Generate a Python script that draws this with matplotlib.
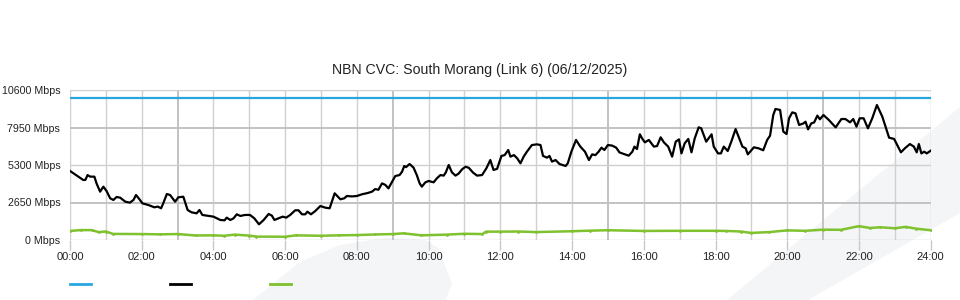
import matplotlib
matplotlib.use("Agg")
import matplotlib.pyplot as plt
from matplotlib.lines import Line2D
from matplotlib.patches import Polygon

plt.rcParams['font.family'] = ['Liberation Sans', 'DejaVu Sans']

title = "NBN CVC: South Morang (Link 6) (06/12/2025)"

# hours of day and Mbps
cap_hours = [0, 24]
cap_mbps = [10000, 10000]

down_hours = [
    0.00, 0.19, 0.37, 0.43, 0.49, 0.56, 0.68, 0.74, 0.84, 0.93, 1.02, 1.12, 1.21, 1.30,
    1.40, 1.54, 1.67, 1.77, 1.84, 1.93, 2.02, 2.19, 2.35, 2.45, 2.54, 2.60, 2.70, 2.79,
    2.93, 3.02, 3.16, 3.28, 3.39, 3.53, 3.61, 3.69, 3.86, 4.00, 4.19, 4.31, 4.37, 4.47,
    4.56, 4.65, 4.75, 4.88, 5.02, 5.14, 5.27, 5.40, 5.54, 5.63, 5.70, 5.81, 5.93, 6.03,
    6.14, 6.28, 6.37, 6.47, 6.56, 6.62, 6.72, 6.84, 6.98, 7.12, 7.24, 7.38, 7.54, 7.65,
    7.72, 7.86, 8.00, 8.14, 8.30, 8.42, 8.51, 8.60, 8.70, 8.79, 8.88, 9.07, 9.19, 9.26,
    9.32, 9.37, 9.47, 9.58, 9.67, 9.75, 9.81, 9.91, 10.00, 10.14, 10.23, 10.33, 10.42,
    10.48, 10.56, 10.65, 10.75, 10.84, 10.93, 11.03, 11.12, 11.24, 11.35, 11.49, 11.61,
    11.72, 11.81, 11.91, 12.03, 12.12, 12.22, 12.28, 12.38, 12.47, 12.56, 12.65, 12.74,
    12.88, 13.02, 13.12, 13.19, 13.30, 13.37, 13.44, 13.54, 13.65, 13.82, 13.88, 13.98,
    14.11, 14.23, 14.36, 14.47, 14.56, 14.65, 14.74, 14.82, 14.90, 15.00, 15.12, 15.23,
    15.32, 15.44, 15.58, 15.68, 15.74, 15.81, 15.89, 15.96, 16.03, 16.14, 16.28, 16.37,
    16.47, 16.56, 16.68, 16.79, 16.89, 16.98, 17.05, 17.14, 17.24, 17.33, 17.42, 17.53,
    17.60, 17.74, 17.89, 17.95, 18.07, 18.15, 18.23, 18.34, 18.44, 18.56, 18.75, 18.84,
    18.90, 19.07, 19.20, 19.33, 19.44, 19.52, 19.61, 19.67, 19.80, 19.89, 19.98, 20.05,
    20.14, 20.23, 20.33, 20.45, 20.51, 20.58, 20.67, 20.75, 20.84, 20.91, 21.01, 21.16,
    21.35, 21.51, 21.62, 21.75, 21.84, 21.93, 22.02, 22.13, 22.25, 22.37, 22.50, 22.65,
    22.84, 22.98, 23.17, 23.28, 23.42, 23.53, 23.61, 23.67, 23.74, 23.82, 23.89, 24.00,
]
down_mbps = [
    4880, 4550, 4240, 4250, 4590, 4480, 4475, 4000, 3415, 3770, 3460, 2945, 2830, 3040,
    2990, 2710, 2640, 2830, 3180, 2900, 2590, 2470, 2310, 2360, 2240, 2590, 3250, 3180,
    2710, 3015, 3060, 2120, 1955, 1885, 2120, 1770, 1700, 1650, 1415, 1390, 1580, 1415,
    1530, 1815, 1700, 1770, 1770, 1530, 1110, 1415, 1840, 1720, 1415, 1530, 1650, 1580,
    1770, 2100, 2100, 1815, 1815, 2000, 1815, 2050, 2400, 2285, 2240, 3300, 2875, 2950,
    3110, 3080, 3110, 3230, 3320, 3415, 3600, 3550, 4000, 3900, 3650, 4520, 4590, 4830,
    5230, 5150, 5370, 5110, 4590, 4000, 3770, 4075, 4170, 4075, 4360, 4590, 4550,
    4780, 5300, 4780, 4550, 4700, 4990, 5180, 5100, 4760, 4550, 4590, 5065,
    5650, 4950, 5030, 5940, 6000, 6360, 5890, 6000, 5770, 5420, 5890, 6240,
    6710, 6760, 6710, 5940, 5820, 5940, 5540, 5650, 5370, 5230, 5420, 6240,
    7070, 6600, 6240, 5650, 6050, 6000, 6240, 6525, 6360, 6710, 6670, 6525,
    6195, 6080, 5960, 6240, 6600, 6430, 7470, 7150, 6900, 7070, 6600, 6640,
    7255, 6900, 6600, 5890, 6950, 7110, 6120, 6830, 7140, 6195, 7185, 7960,
    7900, 6950, 7470, 6600, 6120, 6120, 6600, 6290, 6950, 7840, 6600, 6480,
    6050, 6550, 6480, 6340, 7070, 7370, 8830, 9260, 9190, 7660, 7490, 8600,
    9020, 8950, 8130, 8240, 8360, 7820, 8240, 8310, 8790, 8530, 8830, 8480,
    7960, 8550, 8550, 8315, 8550, 8010, 8600, 8600, 7890, 8600, 9540, 8720,
    7230, 7140, 6195, 6480, 6780, 6600, 6195, 6780, 6120, 6240, 6120, 6310,
]

up_hours = [0, 0.3, 0.6, 0.8, 1.0, 1.2, 2.0, 2.5, 3.0, 3.5, 4.0, 4.3, 4.6, 5.0, 5.2,
            6.0, 6.3, 7.0, 7.5, 8.0, 8.5, 9.0, 9.3, 9.8, 10.5, 11.0, 11.5, 11.6, 12.0,
            12.5, 13.0, 14.0, 14.5, 15.0, 16.0, 17.0, 18.0, 18.3, 18.7, 19.0, 19.5,
            20.0, 20.5, 21.0, 21.5, 22.0, 22.3, 22.6, 23.0, 23.3, 23.6, 24.0]
up_mbps = [640, 700, 700, 560, 600, 430, 420, 400, 420, 320, 330, 300, 380, 310, 240,
           230, 330, 300, 330, 350, 390, 420, 470, 330, 380, 440, 420, 590, 590,
           600, 560, 620, 660, 690, 640, 650, 650, 640, 600, 500, 560,
           680, 650, 730, 720, 980, 850, 900, 830, 930, 800, 690]

y_ticks = [0, 2650, 5300, 7950, 10600]
x_ticks = list(range(0, 25, 2))
x_labels = ["%02d:00" % h for h in x_ticks]

fig = plt.figure(figsize=(9.6, 3.0), dpi=100)
fig.patch.set_facecolor('white')

# faint watermark shapes behind everything
wm = '#f4f5f7'
fig.patches.append(Polygon([(253 / 960, 0), (300 / 960, 38 / 300), (340 / 960, 55 / 300),
                            (385 / 960, 62 / 300), (425 / 960, 60 / 300), (438 / 960, 52 / 300),
                            (452 / 960, 17 / 300), (446 / 960, 0)],
                           closed=True, transform=fig.transFigure, facecolor=wm,
                           edgecolor='none', zorder=-5))
fig.patches.append(Polygon([(727 / 960, 0), (960 / 960, 193 / 300), (960 / 960, 87 / 300),
                            (808 / 960, 0)],
                           closed=True, transform=fig.transFigure, facecolor=wm,
                           edgecolor='none', zorder=-5))

ax = fig.add_axes([70 / 960, 60 / 300, 860.7 / 960, 150 / 300])
ax.set_facecolor('none')

# grid
for h in range(0, 25):
    dark = (h % 6 == 3)
    ax.axvline(h, color='#c2c2c2' if dark else '#d0d0d0', lw=1.4 if dark else 1.0, zorder=1)
for v in y_ticks:
    dark = v in (2650, 7950)
    ax.axhline(v, color='#c2c2c2' if dark else '#d0d0d0', lw=1.4 if dark else 1.0, zorder=1)

ax.plot(cap_hours, cap_mbps, color='#27a7e0', lw=1.6, zorder=3)
ax.plot(up_hours, up_mbps, color='#7fc12e', lw=1.8, marker='.', markersize=2, zorder=3)
ax.plot(down_hours, down_mbps, color='black', lw=1.6, zorder=4)

ax.set_xlim(0, 24)
ax.set_ylim(0, 10600)
for s in ax.spines.values():
    s.set_visible(False)

ax.set_xticks(x_ticks)
ax.set_xticklabels(x_labels, fontsize=8, color='#222222')
ax.tick_params(axis='x', length=7, width=1, color='#c8c8c8', pad=2)
ax.set_yticks(y_ticks)
ax.set_yticklabels(["%d Mbps" % v for v in y_ticks], fontsize=7.7, color='#222222')
ax.tick_params(axis='y', length=0, pad=7)

fig.text(0.5, 1 - 70 / 300, title, ha='center', va='center', fontsize=10.2, color='#222222')

handles = [Line2D([], [], color='#27a7e0', lw=2),
           Line2D([], [], color='black', lw=2),
           Line2D([], [], color='#7fc12e', lw=2)]
fig.legend(handles, ['', '', ''], ncol=3, frameon=False, loc='center left',
           bbox_to_anchor=(70 / 960, 1 - 285 / 300), fontsize=8, handlelength=1.9,
           handletextpad=0, columnspacing=7.1, borderpad=0, borderaxespad=0)

fig.savefig('out.png', dpi=100)
